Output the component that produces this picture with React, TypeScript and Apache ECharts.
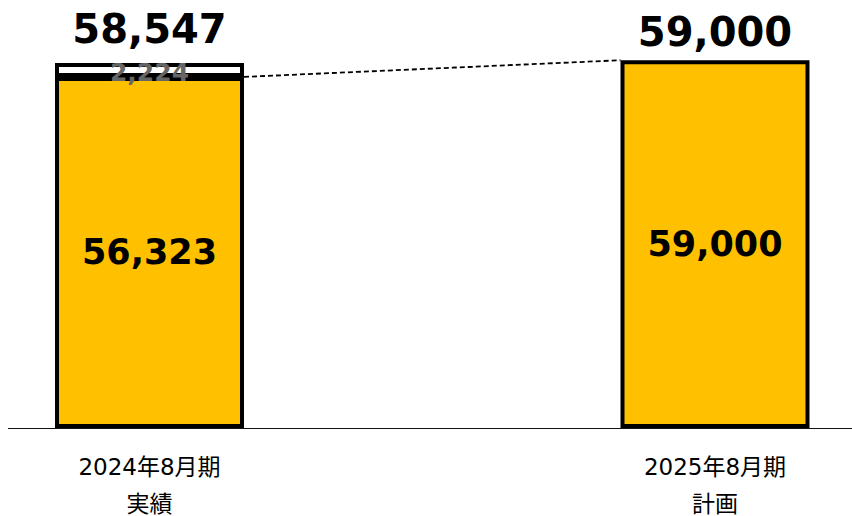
import React, { useEffect, useRef } from "react";
import * as echarts from "echarts";

const categories = ["2024年8月期\n実績", "2025年8月期\n計画"];
const baseValues = [56323, 59000];
const extraValues: (number | null)[] = [2224, null];
const totals = [58547, 59000];
const yMax = 60000;

const fmt = (v: number) => v.toLocaleString("en-US");
const NUM_FONT = "'DejaVu Sans', Verdana, sans-serif";
const AXIS_FONT = "'DejaVu Sans', 'Noto Sans CJK JP', sans-serif";
const BAR_W = 189;

export default function App() {
  const ref = useRef<HTMLDivElement>(null);
  useEffect(() => {
    document.body.style.margin = "0";
    const chart = echarts.init(ref.current!, null, { renderer: "svg" });
    const option: any = {
      animation: false,
      backgroundColor: "#fff",
      grid: {
        left: -141.25,
        right: -145.75,
        top: 54,
        bottom: 88,
        outerBoundsMode: "none",
        containLabel: false,
      },
      xAxis: {
        type: "category",
        data: categories,
        axisTick: { show: false },
        axisLine: { lineStyle: { color: "#111", width: 1.2 } },
        axisLabel: {
          fontSize: 23,
          lineHeight: 37,
          color: "#000",
          margin: 20,
          fontFamily: AXIS_FONT,
        },
      },
      yAxis: { type: "value", min: 0, max: yMax, show: false, splitLine: { show: false } },
      series: [
        {
          name: "base",
          type: "bar",
          stack: "a",
          data: baseValues,
          barWidth: BAR_W,
          itemStyle: { color: "#FFC000", borderColor: "#000", borderWidth: 4 },
          label: {
            show: true,
            position: "inside",
            fontSize: 35,
            fontWeight: "bold",
            color: "#000",
            fontFamily: NUM_FONT,
            formatter: (p: any) => fmt(p.value),
          },
        },
        {
          name: "extra",
          type: "bar",
          stack: "a",
          data: extraValues,
          barWidth: BAR_W,
          itemStyle: { color: "#fff", borderColor: "#000", borderWidth: 4 },
          label: {
            show: true,
            position: "inside",
            offset: [0, 3],
            fontSize: 25,
            fontWeight: "bold",
            color: "#666",
            fontFamily: NUM_FONT,
            formatter: (p: any) => (p.value == null ? "" : fmt(p.value)),
          },
        },
        {
          name: "total",
          type: "scatter",
          symbolSize: 0,
          itemStyle: { opacity: 1, color: "#000" },
          data: totals.map((v, i) => ({ value: v, label: { distance: i === 0 ? 14 : 8 } })),
          label: {
            show: true,
            position: "top",
            fontSize: 40,
            fontWeight: "bold",
            color: "#000",
            opacity: 1,
            fontFamily: NUM_FONT,
            formatter: (p: any) => fmt(p.value),
          },
          z: 5,
        },
        {
          name: "growth",
          type: "custom",
          data: [[0, baseValues[0], 1, baseValues[1]]],
          encode: { x: 0, y: 1 },
          renderItem: (_params: any, api: any) => {
            const p1 = api.coord([api.value(0), api.value(1)]);
            const p2 = api.coord([api.value(2), api.value(3)]);
            return {
              type: "line",
              shape: { x1: p1[0] + BAR_W / 2, y1: p1[1], x2: p2[0] - BAR_W / 2, y2: p2[1] },
              style: { stroke: "#000", lineWidth: 1.8, lineDash: [5, 3] },
            };
          },
          z: 3,
        },
      ],
    };
    chart.setOption(option);
    return () => chart.dispose();
  }, []);
  return <div ref={ref} style={{ width: 844, height: 516, marginLeft: 8 }} />;
}
